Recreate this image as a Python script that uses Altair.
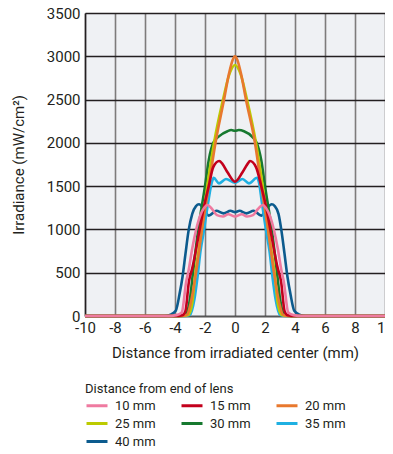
import altair as alt
import pandas as pd

series_labels = ["10 mm", "15 mm", "20 mm", "25 mm", "30 mm", "35 mm", "40 mm"]
series_colors = ["#ef7aa0", "#c3001c", "#e8782e", "#bccb00", "#17792f", "#1fb0e2", "#0c5b8e"]

x_40 = [-10, -4.7, -4.3, -3.95, -3.7, -3.5, -3.3, -3.1, -2.85, -2.6, -2.4, -2.1, -1.75, -1.25, -0.75, -0.3, 0,
        0.3, 0.75, 1.25, 1.75, 2.1, 2.45, 2.65, 2.9, 3.1, 3.3, 3.5, 3.7, 3.95, 4.3, 4.7, 10]
y_40 = [0, 0, 15, 60, 250, 450, 720, 980, 1180, 1270, 1290, 1240, 1160, 1215, 1185, 1215, 1200,
        1215, 1185, 1215, 1160, 1240, 1290, 1270, 1180, 980, 720, 450, 250, 60, 15, 0, 0]

x_35 = [-10, -3.4, -3.0, -2.7, -2.5, -2.3, -2.1, -1.8, -1.55, -1.42, -1.07, -0.6, 0,
        0.5, 0.93, 1.47, 1.6, 1.8, 2.1, 2.3, 2.5, 2.7, 3.0, 3.4, 10]
y_35 = [0, 0, 15, 200, 450, 750, 955, 1300, 1540, 1595, 1532, 1582, 1540,
        1582, 1532, 1597, 1540, 1300, 955, 750, 450, 200, 15, 0, 0]

x_30 = [-10, -3.7, -3.3, -3.0, -2.8, -2.45, -2.0, -1.75, -1.45, -1.07, -0.5, -0.25, 0,
        0.25, 0.6, 1.15, 1.45, 1.75, 2.0, 2.45, 2.8, 3.0, 3.3, 3.7, 10]
y_30 = [0, 0, 15, 200, 500, 1000, 1500, 1800, 2000, 2075, 2135, 2148, 2140,
        2148, 2135, 2070, 2000, 1800, 1500, 1000, 500, 200, 15, 0, 0]

x_25 = [-10, -3.5, -3.1, -2.85, -2.65, -2.25, -1.85, -1.4, -0.8, -0.4, 0,
        0.4, 0.8, 1.4, 1.85, 2.25, 2.65, 2.85, 3.1, 3.5, 10]
y_25 = [0, 0, 15, 150, 480, 960, 1500, 2000, 2500, 2780, 2900,
        2780, 2500, 2000, 1500, 960, 480, 150, 15, 0, 0]

x_20 = [-10, -3.6, -3.2, -2.95, -2.6, -2.2, -1.75, -1.3, -0.73, -0.4, -0.15, 0,
        0.15, 0.4, 0.73, 1.33, 1.75, 2.2, 2.6, 2.95, 3.2, 3.6, 10]
y_20 = [0, 0, 15, 150, 500, 1000, 1500, 2000, 2500, 2800, 2960, 3000,
        2960, 2800, 2500, 2000, 1500, 1000, 500, 150, 15, 0, 0]

x_15 = [-10, -4.0, -3.5, -3.3, -3.07, -2.85, -2.4, -2.07, -1.75, -1.45, -1.05, -0.85, -0.5, 0,
        0.5, 0.85, 1.0, 1.4, 1.75, 2.07, 2.4, 2.85, 3.07, 3.3, 3.5, 4.0, 10]
y_15 = [0, 0, 10, 60, 400, 550, 955, 1262, 1500, 1720, 1790, 1760, 1660, 1551,
        1660, 1760, 1790, 1720, 1500, 1262, 955, 550, 400, 60, 10, 0, 0]

x_10 = [-10, -4.5, -3.9, -3.55, -3.25, -3.1, -2.85, -2.6, -2.3, -2.05, -1.84, -1.5, -1.2, -0.8, -0.45, 0,
        0.45, 0.8, 1.2, 1.5, 1.87, 2.05, 2.3, 2.6, 2.85, 3.1, 3.25, 3.55, 3.9, 4.5, 10]
y_10 = [0, 0, 10, 40, 400, 520, 780, 990, 1170, 1250, 1282, 1230, 1165, 1150, 1175, 1150,
        1175, 1150, 1165, 1230, 1282, 1250, 1170, 990, 780, 520, 400, 40, 10, 0, 0]

rows = []
for lab, xs, ys in [("40 mm", x_40, y_40), ("35 mm", x_35, y_35), ("30 mm", x_30, y_30),
                    ("25 mm", x_25, y_25), ("20 mm", x_20, y_20), ("15 mm", x_15, y_15),
                    ("10 mm", x_10, y_10)]:
    for i, (a, b) in enumerate(zip(xs, ys)):
        rows.append({"series": lab, "x": a, "y": b, "i": i})
df = pd.DataFrame(rows)

x_ticks = list(range(-10, 11, 2))
y_ticks = list(range(0, 3501, 500))

FONT = "Roboto"
TXT = "#231f20"

chart = alt.Chart(df).mark_line(interpolate="monotone", strokeWidth=2.6).encode(
    x=alt.X("x:Q", scale=alt.Scale(domain=[-10, 10], nice=False),
            axis=alt.Axis(values=x_ticks, title="Distance from irradiated center (mm)",
                          labelExpr="'' + datum.value",
                          grid=True, gridColor="#7d7b7b", gridWidth=1.6, ticks=False,
                          domainColor="#555555", domainWidth=1.5,
                          labelFontSize=15, labelPadding=4, labelColor=TXT,
                          titleFontSize=15, titleFontWeight="normal", titleColor=TXT,
                          titlePadding=10, labelFont=FONT, titleFont=FONT, labelFlush=False)),
    y=alt.Y("y:Q", scale=alt.Scale(domain=[0, 3500], nice=False),
            axis=alt.Axis(values=y_ticks, title="Irradiance (mW/cm²)",
                          labelExpr="'' + datum.value",
                          grid=True, gridColor=TXT, gridWidth=1.3, ticks=False,
                          domainColor=TXT, domainWidth=1.5,
                          labelFontSize=15, labelPadding=5, labelColor=TXT,
                          titleFontSize=15, titleFontWeight="normal", titleColor=TXT,
                          titlePadding=20, labelFont=FONT, titleFont=FONT)),
    color=alt.Color("series:N", scale=alt.Scale(domain=series_labels, range=series_colors),
                    legend=alt.Legend(title="Distance from end of lens", orient="none",
                                      direction="horizontal",
                                      legendX=0, legendY=370, columns=3, columnPadding=19,
                                      rowPadding=2, symbolType="M-1,0H2", symbolSize=196,
                                      symbolStrokeWidth=3, labelOffset=13, labelFontSize=13,
                                      titleFontSize=13, titleFontWeight="normal",
                                      labelFont=FONT, titleFont=FONT, labelColor=TXT,
                                      titleColor=TXT, titlePadding=1)),
    order="i:Q",
    detail="series:N",
).properties(
    width=300, height=303,
    autosize=alt.AutoSizeParams(type="none"),
    padding={"left": 77, "top": 5, "right": 0, "bottom": 130},
).configure_view(fill="#eff1f4", stroke=None)

chart.save("out.html", embed_options={"renderer": "svg", "actions": False})
